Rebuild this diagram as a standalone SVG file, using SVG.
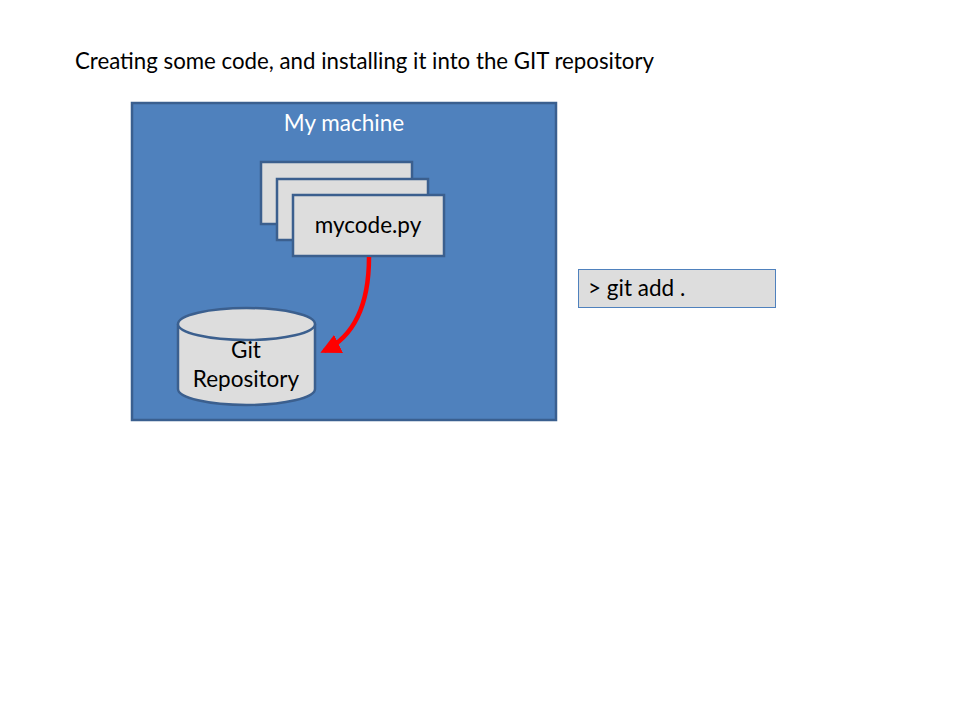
<svg xmlns="http://www.w3.org/2000/svg" width="960" height="720" viewBox="0 0 960 720">
<style>
text{font-family:Lato,"Open Sans","Liberation Sans",sans-serif;font-size:22.5px;fill:#000}
.page{fill:#DDDDDD;stroke:#3B5F8E;stroke-width:2.5}
.white{fill:#fff}
</style>
<defs>
<marker id="arr" viewBox="0 0 10 10" refX="8" refY="5" markerWidth="4.5" markerHeight="4.5" orient="auto" markerUnits="strokeWidth">
<path d="M0,0 L10,5 L0,10 Z" fill="#FF0000"/>
</marker>
</defs>
<rect width="960" height="720" fill="#fff"/>
<text x="75" y="69" textLength="579" lengthAdjust="spacingAndGlyphs">Creating some code, and installing it into the GIT repository</text>
<g id="machine">
<rect x="132" y="103" width="424" height="317" fill="#4F81BD" stroke="#3A5F8F" stroke-width="2.5"/>
<text class="white" x="344" y="131" text-anchor="middle">My machine</text>
</g>
<g id="page1"><rect class="page" x="261" y="162" width="151" height="62"/></g>
<g id="page2"><rect class="page" x="277" y="179" width="151" height="61"/></g>
<g id="mycode">
<rect class="page" x="293" y="195" width="151" height="61"/>
<text x="368" y="233" text-anchor="middle">mycode.py</text>
</g>
<g id="repo">
<path d="M178,324 L178,389 A68.5,16 0 0 0 315,389 L315,324" fill="#DDDDDD" stroke="#3B5F8E" stroke-width="2.5"/>
<ellipse cx="246.5" cy="324" rx="68.5" ry="16" fill="#DDDDDD" stroke="#3B5F8E" stroke-width="2.5"/>
<text x="246" y="358" text-anchor="middle">Git</text>
<text x="246" y="387" text-anchor="middle">Repository</text>
</g>
<g id="command">
<rect x="578.5" y="269.5" width="197" height="38" fill="#DDDDDD" stroke="#4F81BD" stroke-width="1"/>
<text x="588" y="296">&gt; git add .</text>
</g>
<g id="connectors">
<path d="M369,257 C369,300 357,335 324,351" fill="none" stroke="#FF0000" stroke-width="4.5" marker-end="url(#arr)"/>
</g>
</svg>
